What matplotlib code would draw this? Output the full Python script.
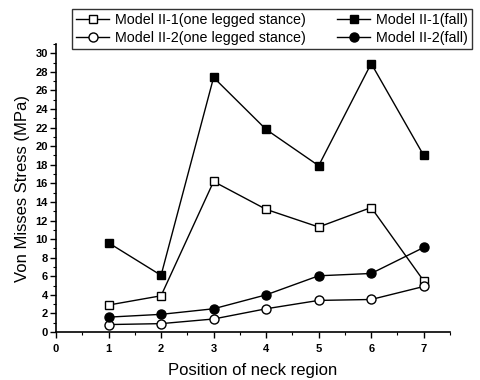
import matplotlib
matplotlib.use("Agg")
import matplotlib.pyplot as plt
from matplotlib.ticker import MultipleLocator

plt.rcParams['font.family'] = ['Liberation Sans', 'DejaVu Sans']

positions = [1, 2, 3, 4, 5, 6, 7]
m1_stance = [2.9, 3.9, 16.2, 13.2, 11.3, 13.4, 5.5]
m1_fall = [9.6, 6.1, 27.4, 21.8, 17.9, 28.9, 19.0]
m2_stance = [0.8, 0.9, 1.4, 2.5, 3.4, 3.5, 4.9]
m2_fall = [1.6, 1.9, 2.5, 4.0, 6.05, 6.3, 9.1]

labels = ["Model II-1(one legged stance)", "Model II-2(one legged stance)",
          "Model II-1(fall)", "Model II-2(fall)"]
xticks = [0, 1, 2, 3, 4, 5, 6, 7]
yticks = list(range(0, 31, 2))

W, H = 480, 380
fig = plt.figure(figsize=(W / 100, H / 100), dpi=100)
left, right, bottom, top = 56, 450, 332, 44
ax = fig.add_axes([left / W, (H - bottom) / H, (right - left) / W, (bottom - top) / H])

lw = 1.0
ms = 6
h1, = ax.plot(positions, m1_stance, color='black', lw=lw, marker='s', ms=ms,
              mfc='white', mec='black', mew=1.0)
h3, = ax.plot(positions, m1_fall, color='black', lw=lw, marker='s', ms=ms,
              mfc='black', mec='black')
h2, = ax.plot(positions, m2_stance, color='black', lw=lw, marker='o', ms=ms + 0.5,
              mfc='white', mec='black', mew=1.0)
h4, = ax.plot(positions, m2_fall, color='black', lw=lw, marker='o', ms=ms + 0.5,
              mfc='black', mec='black')

ax.set_xlim(0, 7.5)
ax.set_ylim(0, 31)
ax.set_xticks(xticks)
ax.set_xticklabels([str(v) for v in xticks])
ax.set_yticks(yticks)
ax.set_yticklabels([str(v) for v in yticks])
ax.xaxis.set_minor_locator(MultipleLocator(0.5))
ax.yaxis.set_minor_locator(MultipleLocator(1))
ax.tick_params(which='major', direction='out', length=4, width=1.0,
               labelsize=8, pad=2)
ax.tick_params(which='minor', direction='out', length=2, width=0.8)
for t in ax.get_xticklabels() + ax.get_yticklabels():
    t.set_fontweight('bold')
ax.tick_params(axis='x', pad=5)

ax.spines['top'].set_visible(False)
ax.spines['right'].set_visible(False)
ax.spines['left'].set_linewidth(1.2)
ax.spines['bottom'].set_linewidth(1.2)

ax.set_xlabel("Position of neck region", fontsize=12, labelpad=6)
ax.set_ylabel("Von Misses Stress (MPa)", fontsize=12, labelpad=4)

leg = fig.legend([h1, h2, h3, h4], labels, ncol=2,
                 loc='upper left', bbox_to_anchor=(72 / W, 1 - 9 / H),
                 fontsize=10.3, frameon=True, fancybox=False, edgecolor='black',
                 handlelength=2.3, handletextpad=0.4, columnspacing=2.2,
                 borderpad=0.3, labelspacing=0.25, borderaxespad=0)
leg.get_frame().set_linewidth(1.0)

fig.savefig("out.png", dpi=100)
